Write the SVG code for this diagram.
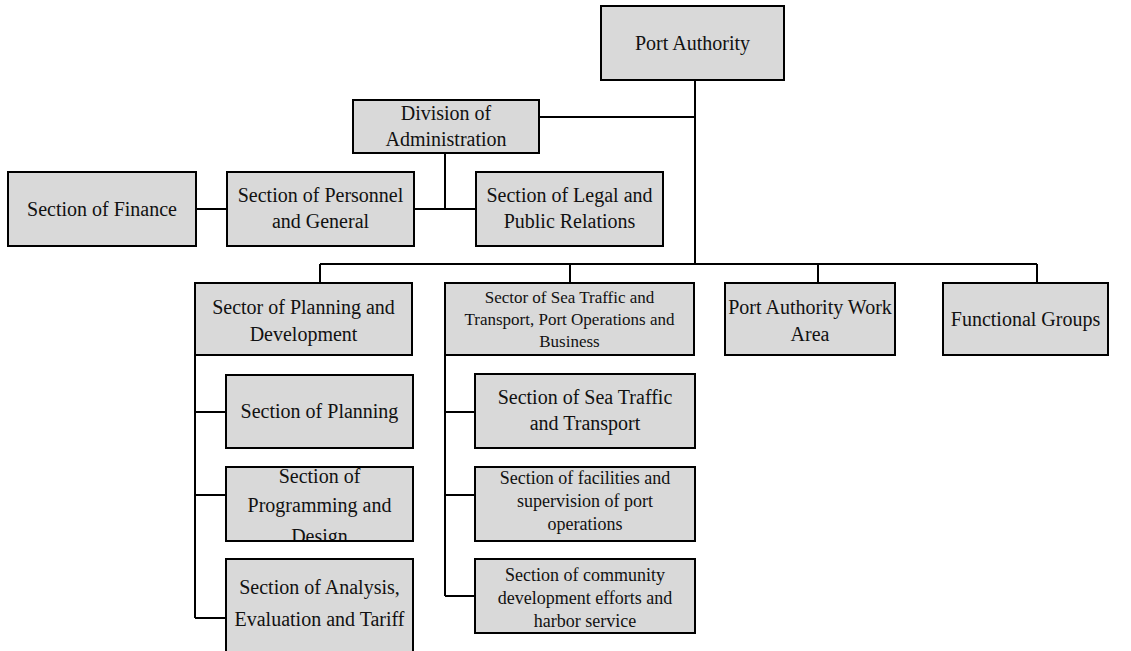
<svg xmlns="http://www.w3.org/2000/svg" width="1131" height="651" viewBox="0 0 1131 651">
<style>
.box{fill:#d9d9d9;stroke:#000;stroke-width:2}
.t{font-family:"Liberation Serif","Times New Roman",serif;font-size:20px;fill:#111;text-anchor:middle}
.s17{font-size:17px}
.s18{font-size:18px}
.c{fill:none;stroke:#000;stroke-width:2}
</style>
<defs>
<clipPath id="clipProg"><rect x="227" y="468" width="185" height="72"/></clipPath>
</defs>
<rect width="1131" height="651" fill="#fff"/>
<g id="connectors">
<path class="c" d="M695 80V264M540 117H695M320 264H1037M320 264V283M570 264V283M818 264V283M1037 264V283"/>
<path class="c" d="M445 153V209M196 209H227M414 209H476"/>
<path class="c" d="M195 355V618M195 412H226M195 495H226M195 618H226"/>
<path class="c" d="M445 355V596M445 412H475M445 495H475M445 596H475"/>
</g>
<g id="port-authority"><rect class="box" x="601" y="6" width="183" height="74"/><text class="t" x="692.5" y="50">Port Authority</text></g>
<g id="division-admin"><rect class="box" x="353" y="100" width="186" height="53"/><text class="t" x="446" y="120">Division of</text><text class="t" x="446" y="146">Administration</text></g>
<g id="section-finance"><rect class="box" x="8" y="172" width="188" height="74"/><text class="t" x="102" y="216">Section of Finance</text></g>
<g id="section-personnel"><rect class="box" x="227" y="172" width="187" height="74"/><text class="t" x="320.5" y="202">Section of Personnel</text><text class="t" x="320.5" y="228">and General</text></g>
<g id="section-legal"><rect class="box" x="476" y="172" width="187" height="74"/><text class="t" x="569.5" y="202">Section of Legal and</text><text class="t" x="569.5" y="228">Public Relations</text></g>
<g id="sector-planning"><rect class="box" x="195" y="283" width="217" height="72"/><text class="t" x="303.5" y="314">Sector of Planning and</text><text class="t" x="303.5" y="341">Development</text></g>
<g id="sector-sea"><rect class="box" x="445" y="283" width="249" height="72"/><text class="t s17" x="569.5" y="303">Sector of Sea Traffic and</text><text class="t s17" x="569.5" y="325">Transport, Port Operations and</text><text class="t s17" x="569.5" y="347">Business</text></g>
<g id="work-area"><rect class="box" x="725" y="283" width="170" height="72"/><text class="t" x="810" y="314">Port Authority Work</text><text class="t" x="810" y="341">Area</text></g>
<g id="functional-groups"><rect class="box" x="943" y="283" width="165" height="72"/><text class="t" x="1025.5" y="326">Functional Groups</text></g>
<g id="section-planning"><rect class="box" x="226" y="375" width="187" height="73"/><text class="t" x="319.5" y="418">Section of Planning</text></g>
<g id="section-programming"><rect class="box" x="226" y="467" width="187" height="74"/><g clip-path="url(#clipProg)"><text class="t" x="319.5" y="483">Section of</text><text class="t" x="319.5" y="512">Programming and</text><text class="t" x="319.5" y="543">Design</text></g><rect x="226" y="467" width="187" height="74" fill="none" stroke="#000" stroke-width="2"/></g>
<g id="section-analysis"><rect class="box" x="226" y="559" width="187" height="100"/><text class="t" x="319.5" y="594">Section of Analysis,</text><text class="t" x="319.5" y="626">Evaluation and Tariff</text></g>
<g id="section-sea-traffic"><rect class="box" x="475" y="374" width="220" height="74"/><text class="t" x="585" y="404">Section of Sea Traffic</text><text class="t" x="585" y="430">and Transport</text></g>
<g id="section-facilities"><rect class="box" x="475" y="467" width="220" height="74"/><text class="t s18" x="585" y="484">Section of facilities and</text><text class="t s18" x="585" y="507">supervision of port</text><text class="t s18" x="585" y="530">operations</text></g>
<g id="section-community"><rect class="box" x="475" y="559" width="220" height="74"/><text class="t s18" x="585" y="581">Section of community</text><text class="t s18" x="585" y="604">development efforts and</text><text class="t s18" x="585" y="627">harbor service</text></g>
</svg>
